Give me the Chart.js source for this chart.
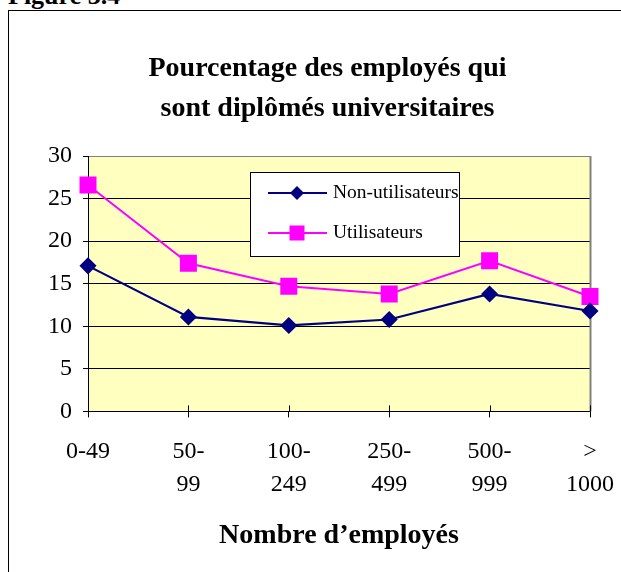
<!DOCTYPE html>
<html>
<head>
<meta charset="utf-8">
<script src="https://cdn.jsdelivr.net/npm/chart.js@4"></script>
<style>
  body { margin: 0; background: #fff; }
  #wrap { position: relative; width: 621px; height: 572px; overflow: hidden; }
  #fig { position: absolute; left: 8px; top: -19px; font: bold 26px 'Liberation Serif', serif; color: #000; }
  #frame { position: absolute; left: 8px; top: 10px; width: 640px; height: 600px; border-left: 1px solid #000; border-top: 1px solid #000; }
  canvas { position: absolute; left: 0; top: 0; }
</style>
</head>
<body>
<div id="wrap">
  <div id="fig">Figure 3.4</div>
  <div id="frame"></div>
  <canvas id="chart" width="621" height="572"></canvas>
</div>
<script>
// categories and series
var categories = [['0-49'], ['50-', '99'], ['100-', '249'], ['250-', '499'], ['500-', '999'], ['>', '1000']];
var nonUsers = [17.1, 11.1, 10.1, 10.8, 13.8, 11.8];
var users = [26.6, 17.4, 14.7, 13.8, 17.7, 13.5];
var yTicks = [0, 5, 10, 15, 20, 25, 30];

var serif = "'Liberation Serif', 'Times New Roman', serif";

// yellow plot background, gray right border, small ticks above the x axis
var plotArea = {
    id: 'plotArea',
    beforeDraw: function(chart) {
        var a = chart.chartArea, c = chart.ctx;
        c.save();
        c.fillStyle = '#FFFFC0';
        c.fillRect(a.left, a.top, a.right - a.left, a.bottom - a.top);
        c.restore();
    },
    beforeDatasetsDraw: function(chart) {
        var a = chart.chartArea, c = chart.ctx, x = chart.scales.x;
        c.save();
        c.strokeStyle = '#808080';
        c.lineWidth = 2;
        c.beginPath();
        c.moveTo(a.right + 0.5, a.top);
        c.lineTo(a.right + 0.5, a.bottom);
        c.stroke();
        c.strokeStyle = '#000';
        c.lineWidth = 1;
        for (var i = 0; i < categories.length; i++) {
            var px = Math.round(x.getPixelForTick(i)) + 0.5;
            c.beginPath();
            c.moveTo(px, a.bottom - 6);
            c.lineTo(px, a.bottom);
            c.stroke();
        }
        c.restore();
    }
};

// boxed legend floating inside the plot
var boxLegend = {
    id: 'boxLegend',
    afterDraw: function(chart) {
        var c = chart.ctx;
        var bx = 250.5, by = 172.5, bw = 209, bh = 84;
        c.save();
        c.fillStyle = '#fff';
        c.fillRect(bx, by, bw, bh);
        c.strokeStyle = '#000';
        c.lineWidth = 1;
        c.strokeRect(bx, by, bw, bh);
        var rows = [193, 233];
        chart.data.datasets.forEach(function(ds, i) {
            var y = rows[i];
            c.strokeStyle = ds.borderColor;
            c.lineWidth = 2;
            c.beginPath();
            c.moveTo(268, y);
            c.lineTo(327, y);
            c.stroke();
            c.fillStyle = ds.backgroundColor;
            if (ds.pointStyle === 'rect') {
                c.fillRect(297 - 7.5, y - 7.5, 15, 15);
            } else {
                c.beginPath();
                c.moveTo(297, y - 7);
                c.lineTo(304, y);
                c.lineTo(297, y + 7);
                c.lineTo(290, y);
                c.closePath();
                c.fill();
            }
            c.fillStyle = '#000';
            c.font = '19.5px ' + serif;
            c.textBaseline = 'middle';
            c.fillText(ds.label, 333, y);
        });
        c.restore();
    }
};

var ctx = document.getElementById('chart').getContext('2d');
var chart = new Chart(ctx, {
    type: 'line',
    data: {
        labels: categories,
        datasets: [{
            label: 'Non-utilisateurs',
            data: nonUsers,
            borderColor: '#000080',
            backgroundColor: '#000080',
            borderWidth: 2.2,
            pointStyle: 'rectRot',
            pointRadius: 7,
            pointHoverRadius: 7,
            tension: 0
        }, {
            label: 'Utilisateurs',
            data: users,
            borderColor: '#FF00FF',
            backgroundColor: '#FF00FF',
            borderWidth: 2,
            pointStyle: 'rect',
            pointRadius: 10.6,
            pointHoverRadius: 10.6,
            tension: 0
        }]
    },
    options: {
        responsive: false,
        animation: false,
        layout: {
            padding: { left: 34, right: 0, top: 0, bottom: 19 }
        },
        plugins: {
            legend: { display: false },
            tooltip: { enabled: false },
            title: {
                display: true,
                text: ['Pourcentage des employés qui', 'sont diplômés universitaires'],
                color: '#000',
                font: { family: serif, size: 28, weight: 'bold', lineHeight: 1.43 },
                padding: { top: 49, bottom: 27 }
            }
        },
        scales: {
            x: {
                offset: false,
                afterFit: function(scale) {
                    // leave room on the right for the last label
                    scale.paddingRight = 31;
                },
                border: { color: '#000', width: 1 },
                grid: { drawOnChartArea: false, drawTicks: true, tickLength: 6, color: '#000' },
                ticks: {
                    color: '#000',
                    maxRotation: 0,
                    autoSkip: false,
                    padding: 18,
                    font: { family: serif, size: 24, lineHeight: 1.375 }
                },
                title: {
                    display: true,
                    text: 'Nombre d’employés',
                    color: '#000',
                    font: { family: serif, size: 28, weight: 'bold' },
                    padding: { top: 0, bottom: 0 }
                }
            },
            y: {
                min: 0,
                max: 30,
                afterBuildTicks: function(scale) {
                    scale.ticks = yTicks.map(function(v) { return { value: v }; });
                },
                afterFit: function(scale) {
                    scale.width = 54;
                },
                border: { color: '#000', width: 1 },
                grid: {
                    color: function(c) { return c.tick && c.tick.value === 30 ? '#808080' : '#000'; },
                    tickColor: '#000',
                    tickLength: 5
                },
                ticks: {
                    color: '#000',
                    padding: 11,
                    font: { family: serif, size: 24 }
                }
            }
        }
    },
    plugins: [plotArea, boxLegend]
});
</script>
</body>
</html>
